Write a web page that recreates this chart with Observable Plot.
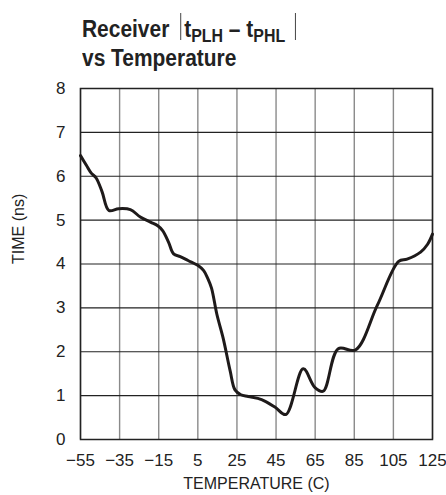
<!DOCTYPE html>
<html>
<head>
<meta charset="utf-8">
<script src="https://cdn.jsdelivr.net/npm/d3@7"></script>
<script src="https://cdn.jsdelivr.net/npm/@observablehq/plot@0.6"></script>
<style>
  html, body { margin: 0; padding: 0; background: #fff; }
  #wrap { position: relative; width: 446px; height: 495px; }
  #title {
    position: absolute; left: 82px; top: 15.6px;
    font-family: "Liberation Sans", Arial, sans-serif;
    font-weight: 700; font-size: 23px; line-height: 27px; color: #222;
    white-space: nowrap;
    transform: scaleX(0.91); transform-origin: left top;
  }
  #title .s { font-size: 17.5px; position: relative; top: 5px; }
  #title .bar { display: inline-block; width: 0; height: 27px; margin-top: -12px; border-left: 1.5px solid #333; vertical-align: baseline; position: relative; top: 3px; }
</style>
</head>
<body>
<div id="wrap">
  <div id="chart"></div>
  <div id="title">Receiver <span class="bar" style="margin-left:6px;margin-right:3px"></span>t<span class="s">PLH</span> – t<span class="s">PHL</span><span class="bar" style="margin-left:11px"></span><br>vs Temperature</div>
</div>
<script>
const temperature = [-55, -52, -49.5, -47, -44, -40.5, -35.5, -29.5, -24.4, -19, -15.5, -13, -10, -7.4, -4, 0, 5.3, 8, 10, 12, 14.7, 18, 21.5, 24, 27, 30.8, 37.6, 44.4, 50, 58.9, 64.8, 69.1, 76.8, 85.6, 96.7, 107.7, 112, 118.9, 122.5, 125];
const timeNs = [6.47, 6.25, 6.07, 5.96, 5.65, 5.22, 5.26, 5.24, 5.07, 4.95, 4.87, 4.76, 4.5, 4.23, 4.17, 4.08, 3.96, 3.85, 3.68, 3.45, 2.86, 2.3, 1.57, 1.13, 1.02, 0.98, 0.91, 0.74, 0.57, 1.61, 1.19, 1.1, 2.07, 2.04, 3.05, 4.06, 4.11, 4.27, 4.45, 4.68];
const xTicks = [-55, -35, -15, 5, 25, 45, 65, 85, 105, 125];
const yTicks = [0, 1, 2, 3, 4, 5, 6, 7, 8];
const xLabel = "TEMPERATURE (C)";
const yLabel = "TIME (ns)";

const data = temperature.map((t, i) => ({t, v: timeNs[i]}));

const chart = Plot.plot({
  width: 446,
  height: 495,
  marginLeft: 80,
  marginRight: 14,
  marginTop: 88,
  marginBottom: 56,
  style: {fontFamily: "'Liberation Sans', Arial, sans-serif", fontSize: "17px", color: "#222", background: "#fff"},
  x: {domain: [-55, 125]},
  y: {domain: [0, 8]},
  marks: [
    Plot.gridX(xTicks, {stroke: "#8a8a8a", strokeOpacity: 1, strokeWidth: 1.4}),
    Plot.gridY(yTicks, {stroke: "#222", strokeOpacity: 1, strokeWidth: 1.2}),
    Plot.frame({stroke: "#222", strokeWidth: 1.5}),
    Plot.axisX(xTicks, {tickSize: 0, tickPadding: 14, label: null, fontSize: 17}),
    Plot.axisY(yTicks, {tickSize: 0, tickPadding: 15, label: null, fontSize: 17}),
    Plot.line(data, {x: "t", y: "v", curve: "catmull-rom", stroke: "#1e1a1a", strokeWidth: 3}),
    Plot.text([xLabel], {frameAnchor: "bottom", dy: 49, fontSize: 16, fill: "#222"}),
    Plot.text([yLabel], {frameAnchor: "left", dx: -62, rotate: -90, fontSize: 16, fill: "#222"})
  ]
});
document.getElementById("chart").appendChild(chart);
</script>
</body>
</html>
